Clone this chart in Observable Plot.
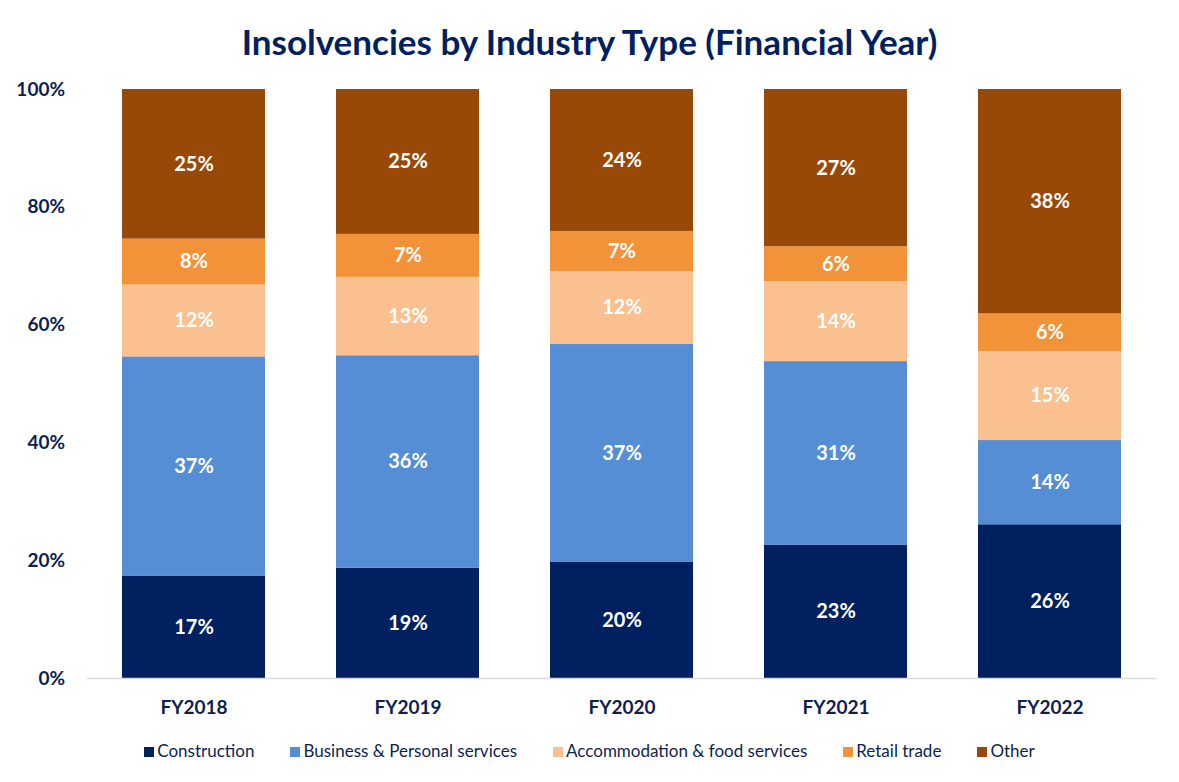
<!DOCTYPE html>
<html><head><meta charset="utf-8">
<script src="https://cdn.jsdelivr.net/npm/d3@7"></script>
<script src="https://cdn.jsdelivr.net/npm/@observablehq/plot@0.6"></script>
<style>
body{margin:0;background:#fff;font-family:Lato,"Open Sans",sans-serif;}
#title{height:70px;line-height:82px;text-align:center;font-weight:bold;font-size:35px;color:#002060;}
#legend{display:flex;justify-content:center;gap:36px;font-size:17px;color:#0d1f4f;margin-top:10px;}
#legend span.sw{display:inline-block;width:10px;height:10px;margin-right:3px;vertical-align:middle;position:relative;top:-1px;}
</style></head><body>
<div id="title">Insolvencies by Industry Type (Financial Year)</div>
<div id="chart"></div>
<div id="legend"></div>
<script>
const years = ["FY2018","FY2019","FY2020","FY2021","FY2022"];
const industries = ["Construction","Business & Personal services","Accommodation & food services","Retail trade","Other"];
const colors = ["#002060","#558ed5","#fac090","#f39339","#984807"];
const construction = [17.4,18.7,19.7,22.6,26.1];
const business = [37.2,36.1,37.0,31.2,14.3];
const accommodation = [12.2,13.3,12.4,13.6,15.1];
const retail = [7.8,7.3,6.8,5.9,6.4];
const other = [25.4,24.6,24.1,26.7,38.1];
const yTicks = [0,20,40,60,80,100];

const series = [construction,business,accommodation,retail,other];
const data = [];
years.forEach((y,i)=>series.forEach((s,k)=>data.push({year:y,industry:industries[k],value:s[i]})));

const chart = Plot.plot({
  width:1179, height:660,
  marginTop:19, marginBottom:52, marginLeft:86.5, marginRight:22.5,
  style:{fontFamily:"Lato, 'Open Sans', sans-serif"},
  x:{domain:years,paddingInner:0.332,paddingOuter:0.166,label:null,tickSize:0,tickPadding:22},
  y:{domain:[0,100],ticks:yTicks,tickFormat:d=>d+"%",label:null,tickSize:0,tickPadding:22},
  color:{domain:industries,range:colors},
  marks:[
    Plot.barY(data,Plot.stackY({x:"year",y:"value",fill:"industry",order:industries})),
    Plot.ruleY([0],{stroke:"#d9d9d9",strokeWidth:1.5}),
    Plot.text(data,Plot.stackY({x:"year",y:"value",z:"industry",order:industries,text:d=>Math.round(d.value)+"%",fill:"white",fontWeight:"bold",fontSize:20}))
  ]
});
chart.querySelectorAll('g[aria-label="x-axis tick label"], g[aria-label="y-axis tick label"]').forEach(g=>{
  g.setAttribute("font-weight","bold");g.setAttribute("font-size","19");g.setAttribute("fill","#0d1f4f");
});
document.getElementById("chart").appendChild(chart);
const lg = document.getElementById("legend");
industries.forEach((n,i)=>{
  const d=document.createElement("div");
  d.innerHTML=`<span class="sw" style="background:${colors[i]}"></span>${n.replace("&","&amp;")}`;
  lg.appendChild(d);
});
</script>
</body></html>
